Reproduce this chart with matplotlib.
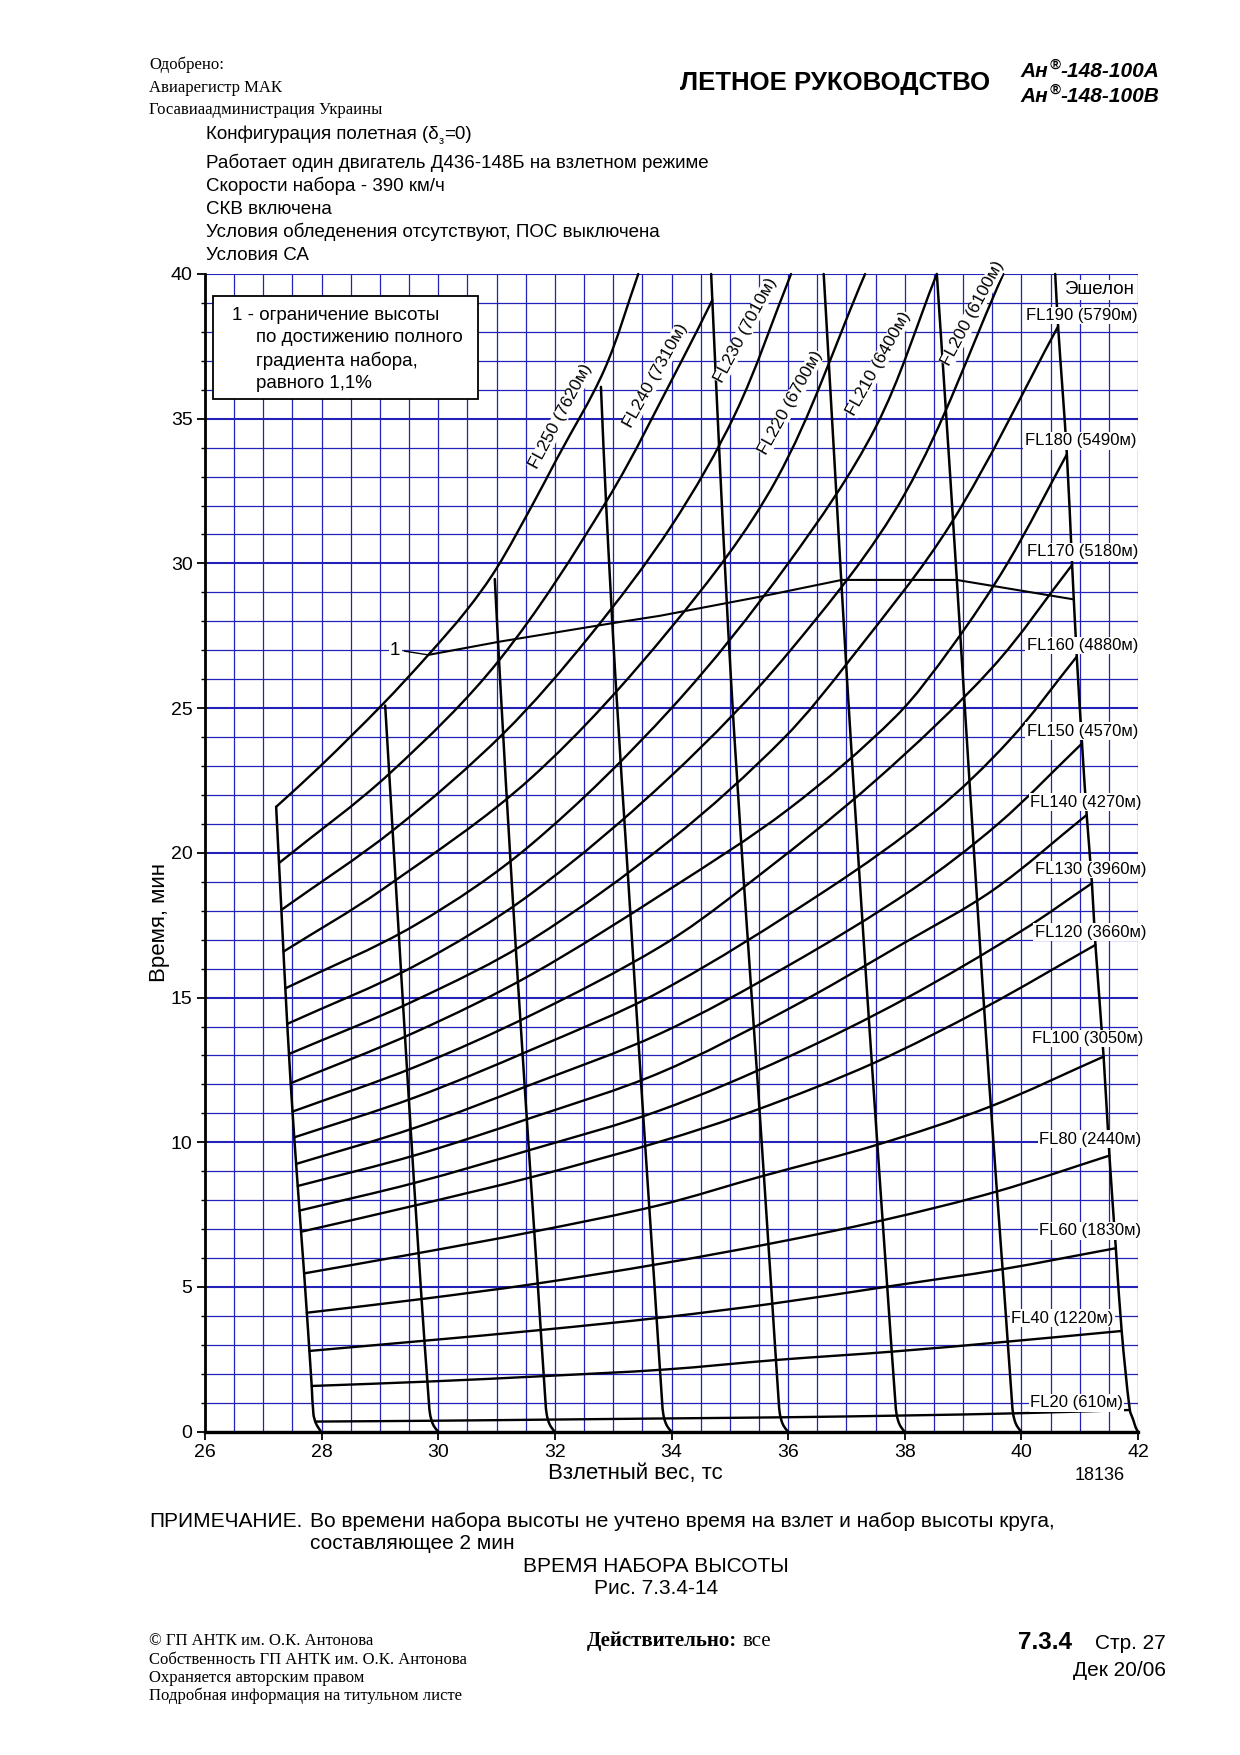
#!/usr/bin/env python3
"""Ан-148-100: время набора высоты, один двигатель на взлетном режиме (рис. 7.3.4-14)."""
import matplotlib

matplotlib.use("Agg")
import matplotlib.pyplot as plt  # noqa: E402
from matplotlib.patches import PathPatch, Rectangle  # noqa: E402
from matplotlib.path import Path  # noqa: E402
from matplotlib.ticker import MultipleLocator  # noqa: E402

plt.rcParams["font.family"] = ["Liberation Sans", "DejaVu Sans"]

W_PX, H_PX = 1240, 1755
OUT = "out.png"
GRID_BLUE = "#2222b8"
SERIF = ["Liberation Serif", "DejaVu Serif"]

# --- FL curves: takeoff weight (t) -> climb time (min)
FL20_W = [27.89, 30.0, 32.0, 34.0, 36.0, 38.0, 40.0, 41.86]
FL20_MIN = [0.35, 0.38, 0.42, 0.46, 0.50, 0.56, 0.64, 0.75]
FL40_W = [27.83, 29.8, 31.8, 33.9, 35.81, 37.81, 39.75, 41.72]
FL40_MIN = [1.58, 1.73, 1.92, 2.15, 2.48, 2.77, 3.11, 3.48]
FL60_W = [27.79, 29.8, 31.74, 33.9, 35.75, 37.69, 39.69, 41.62]
FL60_MIN = [2.79, 3.15, 3.51, 3.96, 4.43, 5.01, 5.62, 6.34]
FL80_W = [27.745, 29.7, 31.63, 33.8, 35.7, 37.61, 39.58, 41.51]
FL80_MIN = [4.11, 4.58, 5.10, 5.80, 6.50, 7.30, 8.30, 9.54]
FL100_W = [27.70, 29.63, 31.63, 33.8, 35.52, 37.52, 39.46, 41.41]
FL100_MIN = [5.47, 6.16, 6.91, 7.83, 8.81, 9.91, 11.23, 12.96]
FL120_W = [27.65, 29.63, 31.63, 33.8, 35.46, 37.46, 39.35, 41.27]
FL120_MIN = [6.91, 7.83, 8.81, 10.02, 11.12, 12.73, 14.63, 16.82]
FL130_W = [27.62, 29.6, 31.6, 33.8, 36.0, 38.0, 40.0, 41.21]
FL130_MIN = [7.64, 8.60, 9.75, 11.10, 12.95, 14.95, 17.30, 18.95]
FL140_W = [27.59, 29.6, 31.6, 33.8, 36.0, 38.0, 39.52, 41.12]
FL140_MIN = [8.49, 9.55, 10.85, 12.40, 14.60, 16.90, 18.72, 21.31]
FL150_W = [27.56, 29.6, 31.6, 33.8, 36.0, 38.12, 39.6, 41.04]
FL150_MIN = [9.25, 10.50, 12.00, 13.75, 16.10, 18.72, 21.0, 23.78]
FL160_W = [27.53, 29.6, 31.6, 33.8, 36.66, 38.5, 39.8, 40.95]
FL160_MIN = [10.17, 11.55, 13.20, 15.20, 18.72, 21.4, 23.9, 26.78]
FL170_W = [27.50, 29.6, 31.6, 33.8, 35.18, 37.5, 39.5, 40.87]
FL170_MIN = [11.06, 12.6, 14.4, 16.75, 18.72, 22.5, 26.4, 29.95]
FL180_W = [27.47, 29.6, 31.6, 33.95, 36.0, 37.84, 38.8, 39.76, 40.78]
FL180_MIN = [12.04, 13.8, 15.8, 18.72, 21.5, 24.7, 27.1, 30.0, 33.77]
FL190_W = [27.44, 29.6, 31.6, 34.0, 35.92, 37.07, 38.8, 40.63]
FL190_MIN = [13.05, 14.9, 17.0, 20.47, 23.95, 26.7, 31.4, 38.19]
FL200_W = [27.41, 29.6, 31.6, 34.0, 36.0, 38.0, 39.69]
FL200_MIN = [14.09, 16.1, 18.6, 22.67, 26.9, 32.4, 40.0]
FL210_W = [27.38, 29.6, 31.6, 34.0, 36.0, 37.5, 38.55]
FL210_MIN = [15.32, 17.5, 20.3, 25.0, 30.0, 34.7, 40.0]
FL220_W = [27.347, 29.03, 31.6, 34.0, 35.8, 37.32]
FL220_MIN = [16.59, 18.72, 22.6, 27.8, 32.9, 40.0]
FL230_W = [27.31, 29.23, 31.12, 32.6, 34.0, 35.1, 36.05]
FL230_MIN = [18.03, 20.79, 24.13, 27.5, 31.3, 35.2, 40.0]
FL240_W = [27.27, 29.17, 31.05, 32.9, 34.2, 34.7]
FL240_MIN = [19.65, 22.75, 26.67, 32.2, 37.1, 39.1]
FL250_W = [27.22, 27.97, 29.05, 29.83, 30.49, 31.0, 31.63, 32.03, 32.85, 33.43]
FL250_MIN = [21.59, 22.98, 25.14, 26.84, 28.39, 29.83, 32.08, 33.6, 36.7, 40.0]

# --- weight guide lines (start at 28, 30 ... 42 t on the axis)
W28_W = [27.99, 27.95, 27.90, 27.86, 27.83, 27.70, 27.53, 27.41, 27.31, 27.22]
W28_MIN = [0.0, 0.12, 0.3, 0.6, 1.58, 5.47, 10.17, 14.09, 18.03, 21.59]
W30_W = [30.0, 29.95, 29.90, 29.86, 29.84, 29.70, 29.48, 29.27, 29.09]
W30_MIN = [0.0, 0.12, 0.3, 0.6, 1.0, 5.0, 12.0, 19.0, 25.09]
W32_W = [32.0, 31.95, 31.90, 31.86, 31.84, 31.71, 31.48, 31.26, 31.06, 30.97]
W32_MIN = [0.0, 0.12, 0.3, 0.6, 1.0, 5.0, 12.0, 19.0, 26.0, 29.46]
W34_W = [34.0, 33.95, 33.90, 33.86, 33.84, 33.71, 33.48, 33.26, 33.04, 32.88, 32.79]
W34_MIN = [0.0, 0.12, 0.3, 0.6, 1.0, 5.0, 12.0, 19.0, 26.0, 32.0, 36.1]
W36_W = [36.0, 35.95, 35.90, 35.86, 35.84, 35.71, 35.48, 35.24, 35.02, 34.84, 34.68]
W36_MIN = [0.0, 0.12, 0.3, 0.6, 1.0, 5.0, 12.0, 19.0, 26.0, 33.0, 40.0]
W38_W = [38.0, 37.95, 37.90, 37.86, 37.84, 37.70, 37.46, 37.23, 37.01, 36.81, 36.61]
W38_MIN = [0.0, 0.12, 0.3, 0.6, 1.0, 5.0, 12.0, 19.0, 26.0, 33.0, 40.0]
W40_W = [40.0, 39.95, 39.90, 39.86, 39.84, 39.70, 39.45, 39.22, 39.0, 38.78, 38.55]
W40_MIN = [0.0, 0.12, 0.3, 0.6, 1.0, 5.0, 12.0, 19.0, 26.0, 33.0, 40.0]
W42_W = [42.0, 41.96, 41.92, 41.86, 41.72, 41.62, 41.51, 41.41, 41.27, 41.21, 41.12, 41.04,
         40.95, 40.87, 40.78, 40.63, 40.58]
W42_MIN = [0.0, 0.15, 0.4, 0.75, 3.48, 6.34, 9.54, 12.96, 16.82, 18.95, 21.31, 23.78,
           26.78, 29.95, 33.77, 38.19, 40.0]

# --- line 1: altitude limit at full climb gradient 1,1 %
LIM_W = [29.83, 31.06, 33.0, 33.8, 35.52, 36.92, 38.89, 40.89]
LIM_MIN = [26.84, 27.30, 27.94, 28.19, 28.85, 29.43, 29.43, 28.76]

FL_SIDE = ["FL190 (5790м)", "FL180 (5490м)", "FL170 (5180м)", "FL160 (4880м)",
           "FL150 (4570м)", "FL140 (4270м)", "FL130 (3960м)", "FL120 (3660м)",
           "FL100 (3050м)", "FL80 (2440м)", "FL60 (1830м)", "FL40 (1220м)", "FL20 (610м)"]
FL_TOP = ["FL250 (7620м)", "FL240 (7310м)", "FL230 (7010м)", "FL220 (6700м)",
          "FL210 (6400м)", "FL200 (6100м)"]

FL_CURVES = [
    (FL20_W, FL20_MIN), (FL40_W, FL40_MIN), (FL60_W, FL60_MIN), (FL80_W, FL80_MIN),
    (FL100_W, FL100_MIN), (FL120_W, FL120_MIN), (FL130_W, FL130_MIN), (FL140_W, FL140_MIN),
    (FL150_W, FL150_MIN), (FL160_W, FL160_MIN), (FL170_W, FL170_MIN), (FL180_W, FL180_MIN),
    (FL190_W, FL190_MIN), (FL200_W, FL200_MIN), (FL210_W, FL210_MIN), (FL220_W, FL220_MIN),
    (FL230_W, FL230_MIN), (FL240_W, FL240_MIN), (FL250_W, FL250_MIN),
]
WEIGHT_LINES = [
    (W28_W, W28_MIN), (W30_W, W30_MIN), (W32_W, W32_MIN), (W34_W, W34_MIN),
    (W36_W, W36_MIN), (W38_W, W38_MIN), (W40_W, W40_MIN), (W42_W, W42_MIN),
]

# label placement (right edge in t, centre in min) and rotated labels (centre, angle)
SIDE_POS = [(42.0, 38.57), (41.97, 34.24), (42.0, 30.4), (42.0, 27.16), (42.0, 24.2),
            (42.06, 21.75), (42.14, 19.43), (42.14, 17.26), (42.1, 13.59), (42.06, 10.11),
            (42.06, 6.94), (41.58, 3.92), (41.74, 1.0)]
TOP_POS = [(32.1, 35.07, 62), (33.73, 36.5, 61), (35.27, 38.06, 62),
           (36.04, 35.55, 61), (37.55, 36.9, 61), (39.17, 38.65, 62)]

PX_PER_T, PX_PER_MIN = 58.3, 28.94


def fxy(px, py):
    return px / W_PX, 1 - py / H_PX


def smooth_line(ax, xs, ys, **kw):
    """Draw a smooth curve through the read points (chord-scaled cubic Bezier segments)."""
    pts = [(x * PX_PER_T, y * PX_PER_MIN) for x, y in zip(xs, ys)]
    n = len(pts)

    def dist(a, b):
        return max(((a[0] - b[0]) ** 2 + (a[1] - b[1]) ** 2) ** 0.5, 1e-6)

    def tangent(i):
        if i == 0:
            a, b = pts[0], pts[1]
        elif i == n - 1:
            a, b = pts[-2], pts[-1]
        else:
            a, b = pts[i - 1], pts[i + 1]
            d = dist(a, pts[i]) + dist(pts[i], b)
            return ((b[0] - a[0]) / d, (b[1] - a[1]) / d)
        return ((b[0] - a[0]) / dist(a, b), (b[1] - a[1]) / dist(a, b))

    verts, codes = [pts[0]], [Path.MOVETO]
    for i in range(n - 1):
        p1, p2 = pts[i], pts[i + 1]
        h = dist(p1, p2) / 3
        t1, t2 = tangent(i), tangent(i + 1)
        verts += [(p1[0] + t1[0] * h, p1[1] + t1[1] * h),
                  (p2[0] - t2[0] * h, p2[1] - t2[1] * h), p2]
        codes += [Path.CURVE4] * 3
    verts = [(x / PX_PER_T, y / PX_PER_MIN) for x, y in verts]
    ax.add_patch(PathPatch(Path(verts, codes), fill=False, capstyle="round",
                           joinstyle="round", **kw))


def chain(fig, parts, x, y):
    """Place text pieces one after another; parts = (text, kwargs, dy_px, gap_px)."""
    r = fig.canvas.get_renderer()
    for txt, kw, dy, gap in parts:
        t = fig.text(*fxy(x + gap, y + dy), txt, va="baseline", ha="left", **kw)
        x = t.get_window_extent(r).x1


fig = plt.figure(figsize=(W_PX / 100, H_PX / 100), dpi=100, facecolor="white")
ax = fig.add_axes([205 / W_PX, 1 - 1431.7 / H_PX, (1138 - 205) / W_PX, (1431.7 - 274) / H_PX])
ax.set_xlim(26, 42)
ax.set_ylim(0, 40)
ax.xaxis.set_major_locator(MultipleLocator(2))
ax.xaxis.set_minor_locator(MultipleLocator(0.5))
ax.yaxis.set_major_locator(MultipleLocator(5))
ax.yaxis.set_minor_locator(MultipleLocator(1))
ax.grid(which="minor", color=GRID_BLUE, lw=0.9)
ax.grid(which="major", axis="x", color=GRID_BLUE, lw=0.9)
ax.grid(which="major", axis="y", color=GRID_BLUE, lw=1.5)
ax.set_axisbelow(True)
for side in ("top", "right"):
    ax.spines[side].set_visible(False)
ax.spines["left"].set_linewidth(2.0)
ax.spines["bottom"].set_linewidth(2.4)
ax.tick_params(axis="both", which="major", labelsize=14, direction="out", length=6, width=1.3, pad=3)
ax.tick_params(axis="y", which="minor", direction="out", length=3, width=1.0)
ax.tick_params(axis="x", which="minor", length=0)
ax.set_xlabel("Взлетный вес, тс", fontsize=16)
ax.set_ylabel("Время, мин", fontsize=16)
ax.xaxis.set_label_coords(0.4616, -0.027)
ax.yaxis.set_label_coords(-0.037, 0.44)

for w, m in FL_CURVES:
    smooth_line(ax, w, m, edgecolor="black", lw=1.7, zorder=3, clip_on=False)
for w, m in WEIGHT_LINES:
    smooth_line(ax, w, m, edgecolor="black", lw=1.8, zorder=3, clip_on=False)
ax.plot(LIM_W, LIM_MIN, color="black", lw=1.5, zorder=3)
ax.plot([29.42, LIM_W[0]], [26.97, LIM_MIN[0]], color="black", lw=1.0, zorder=3)
ax.text(29.26, 26.99, "1", fontsize=13.5, ha="center", va="center", zorder=4,
        bbox=dict(facecolor="white", edgecolor="none", pad=1))

box = dict(facecolor="white", edgecolor="none", pad=1.0)
for name, (xr, yc) in zip(FL_SIDE, SIDE_POS):
    ax.text(xr, yc, name, fontsize=12, ha="right", va="center", zorder=4, bbox=box, clip_on=False)
ax.text(41.93, 39.45, "Эшелон", fontsize=13.5, ha="right", va="center", zorder=4, bbox=box)
for name, (xc, yc, ang) in zip(FL_TOP, TOP_POS):
    ax.text(xc, yc, name, fontsize=12.5, ha="center", va="center", rotation=ang,
            rotation_mode="anchor", zorder=4, bbox=dict(facecolor="white", edgecolor="none", pad=0.3),
            clip_on=False)

ax.add_patch(Rectangle((26.13, 35.67), 4.55, 3.56, facecolor="white", edgecolor="black",
                       lw=1.3, zorder=5))
ax.text(26.47, 38.55, "1 - ограничение высоты", fontsize=13.5, va="center", zorder=6)
for i, line in enumerate(["по достижению полного", "градиента набора,", "равного 1,1%"]):
    ax.text(26.87, 37.8 - 0.8 * i, line, fontsize=13.5, va="center", zorder=6)

ax.text(41.35, -1.5, "18136", fontsize=13, ha="center", va="center", clip_on=False)

# --- page header
for i, line in enumerate(["Одобрено:", "Авиарегистр МАК", "Госавиаадминистрация Украины"]):
    fig.text(*fxy(149, 69 + 22.5 * i), line, fontsize=12, family=SERIF, va="baseline")
fig.text(*fxy(835, 90), "ЛЕТНОЕ РУКОВОДСТВО", fontsize=18.5, weight="bold", ha="center", va="baseline")
for j, y in enumerate([77, 102]):
    chain(fig, [("Ан", dict(fontsize=15, weight="bold", style="italic"), 0, 0),
                ("®", dict(fontsize=10.5, weight="bold", style="italic"), -8, 2),
                ("-148-100" + "АВ"[j], dict(fontsize=15, weight="bold", style="italic"), 0, 0)],
          1020, y)

cond = ["Работает один двигатель Д436-148Б на взлетном режиме", "Скорости набора - 390 км/ч",
        "СКВ включена", "Условия обледенения отсутствуют, ПОС выключена", "Условия СА"]
chain(fig, [("Конфигурация полетная (δ", dict(fontsize=13.5), 0, 0),
            ("з", dict(fontsize=8), 5, 0),
            ("=0)", dict(fontsize=13.5), 0, 0)], 206, 139)
for i, line in enumerate(cond):
    fig.text(*fxy(206, 168 + 23 * i), line, fontsize=13.5, va="baseline")

# --- notes and caption
fig.text(*fxy(149, 1527), "ПРИМЕЧАНИЕ.", fontsize=15, va="baseline")
fig.text(*fxy(310, 1527), "Во времени набора высоты не учтено время на взлет и набор высоты круга,",
         fontsize=15, va="baseline")
fig.text(*fxy(310, 1549), "составляющее 2 мин", fontsize=15, va="baseline")
fig.text(*fxy(656, 1572), "ВРЕМЯ НАБОРА ВЫСОТЫ", fontsize=15, ha="center", va="baseline")
fig.text(*fxy(656, 1594), "Рис. 7.3.4-14", fontsize=15, ha="center", va="baseline")

# --- footer
for i, line in enumerate(["© ГП АНТК им. О.К. Антонова", "Собственность ГП АНТК им. О.К. Антонова",
                          "Охраняется авторским правом", "Подробная информация на титульном листе"]):
    fig.text(*fxy(149, 1645 + 18.5 * i), line, fontsize=12, family=SERIF, va="baseline")
chain(fig, [("Действительно:", dict(fontsize=15, family=SERIF, weight="bold"), 0, 0),
            ("все", dict(fontsize=15, family=SERIF), 0, 5)], 587, 1646)
fig.text(*fxy(1018, 1649), "7.3.4", fontsize=17.5, weight="bold", va="baseline")
fig.text(*fxy(1166, 1649), "Стр. 27", fontsize=15, ha="right", va="baseline")
fig.text(*fxy(1166, 1676), "Дек 20/06", fontsize=15, ha="right", va="baseline")

fig.savefig(OUT, dpi=100, facecolor="white")
plt.close(fig)
